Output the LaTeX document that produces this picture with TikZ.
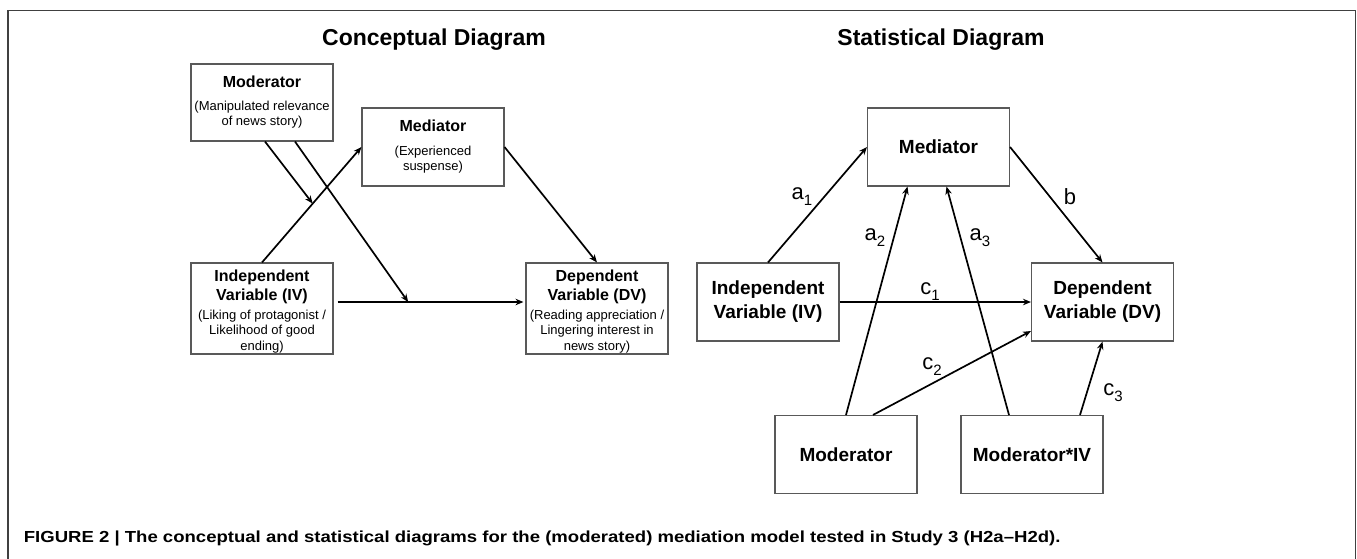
\documentclass[tikz,border=0pt]{standalone}
\usepackage{fontspec}
\setmainfont{Liberation Sans}
\usetikzlibrary{arrows.meta,calc}
\newcommand\cb[1]{{\fontsize{16}{19}\selectfont\bfseries #1}}
\newcommand\lb[2]{#1\raisebox{-6pt}{\fontsize{15}{15}\selectfont #2}}

\begin{document}
\begin{tikzpicture}[x=1pt,y=-1pt,line width=1.7pt,
    >={Stealth[length=8pt,width=6.5pt]},every node/.style={inner sep=0pt},
    hd/.style={font=\fontsize{23}{27}\selectfont\bfseries},
    cbox/.style={draw=black!65,line width=1.1pt,minimum width=142pt,
      align=center,font=\fontsize{13}{15.5}\selectfont},
    sbox/.style={draw=black!65,line width=1.1pt,minimum width=142pt,
      minimum height=78pt,align=center,font=\fontsize{19}{24}\selectfont\bfseries},
    lab/.style={font=\fontsize{22}{26}\selectfont}]
  \useasboundingbox(0,0)rectangle(1357,558);
  \draw[black!75,line width=1.5pt](8,560)--(8,10.5)--(1355.5,10.5)--(1355.5,560);
  % conceptual diagram
  \node[hd](ctitle) at (434,40){Conceptual Diagram};
  \node[cbox,minimum height=77pt](cmod) at (262,102.5)
    {\cb{Moderator}\\[7pt](Manipulated relevance\\of news story)};
  \node[cbox,minimum height=78pt](cmed) at (433,147)
    {\cb{Mediator}\\[8pt](Experienced\\suspense)};
  \node[cbox,minimum height=91pt,text height=85pt,text depth=2pt](civ) at (262,308.5)
    {\cb{Independent}\\[3pt]\cb{Variable (IV)}\\[3.5pt](Liking of protagonist /\\Likelihood of good\\ending)};
  \node[cbox,minimum height=91pt,text height=85pt,text depth=2pt](cdv) at (597,308.5)
    {\cb{Dependent}\\[3pt]\cb{Variable (DV)}\\[3.5pt](Reading appreciation /\\Lingering interest in\\news story)};
  \draw[->](civ.north)--(cmed.west);
  \coordinate(m1) at ($(civ.north)!0.51!(cmed.west)$);
  \draw[->]([xshift=3pt]cmod.south)--(m1);
  \draw[->]([xshift=4pt,yshift=6.5pt]civ.east)--coordinate[pos=0.38](m2)
    ([xshift=-2pt,yshift=6.5pt]cdv.west);
  \draw[->]([xshift=33pt]cmod.south)--(m2);
  \draw[->](cmed.east)--(cdv.north);
  % statistical diagram
  \node[hd](stitle) at (941,40){Statistical Diagram};
  \node[sbox](smed) at (938.5,147){Mediator};
  \node[sbox](siv) at (768,302){Independent\\Variable (IV)};
  \node[sbox](sdv) at (1102.5,302){Dependent\\Variable (DV)};
  \node[sbox](smod) at (846,454.5){Moderator};
  \node[sbox](sint) at (1032,454.5){Moderator*IV};
  \draw[->](siv.north)--(smed.west);
  \draw[->](smod.north)--([xshift=-31pt]smed.south);
  \draw[->]([xshift=-23pt]sint.north)--([xshift=8pt]smed.south);
  \draw[->](siv)--(sdv);
  \draw[->]([xshift=27pt]smod.north)--([yshift=-29pt]sdv.west);
  \draw[->]([xshift=48pt]sint.north)--(sdv.south);
  \draw[->](smed.east)--(sdv.north);
  \node[lab](la1) at (802,197){\lb{a}{1}};
  \node[lab](la2) at (875,238){\lb{a}{2}};
  \node[lab](la3) at (980,238){\lb{a}{3}};
  \node[lab](lb) at (1070,197){b};
  \node[lab](lc1) at (930,292){\lb{c}{1}};
  \node[lab](lc2) at (932,367){\lb{c}{2}};
  \node[lab](lc3) at (1113,393){\lb{c}{3}};
  % caption
  \node[anchor=west,font=\fontsize{16}{18}\selectfont\bfseries](cap) at (23,538)
    {\scalebox{1.159}[1]{FIGURE 2 | The conceptual and statistical diagrams for the (moderated) mediation model tested in Study 3 (H2a–H2d).}};
\end{tikzpicture}
\end{document}
